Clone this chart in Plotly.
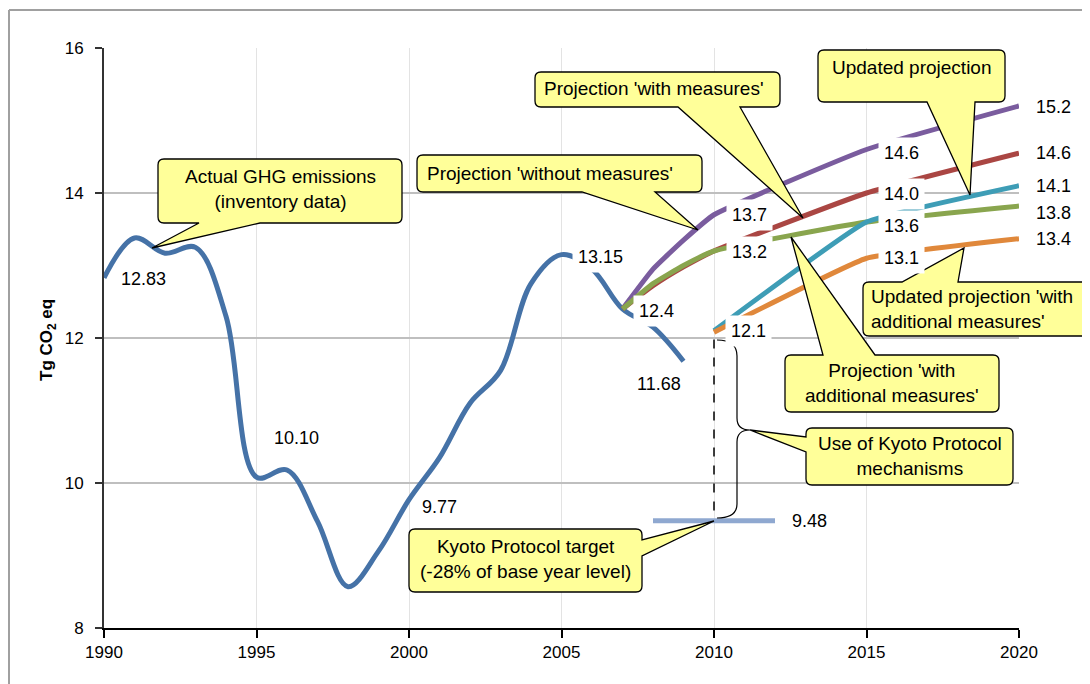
import plotly.graph_objects as go

# ---------------- data ----------------
actual_years = list(range(1990, 2010))
actual_ghg = [12.83, 13.38, 13.17, 13.25, 12.30, 10.08, 10.18, 9.47, 8.57, 9.06,
              9.77, 10.35, 11.10, 11.55, 12.75, 13.15, 12.95, 12.40, 12.15, 11.68]

proj_years = [2007, 2008, 2009, 2010, 2015, 2020]
proj_without_measures = [12.4, 12.95, 13.35, 13.7, 14.6, 15.2]
proj_with_measures = [12.4, 12.72, 12.98, 13.2, 14.0, 14.55]
proj_with_additional = [12.4, 12.75, 13.0, 13.2, 13.6, 13.82]

upd_years = [2010, 2015, 2020]
upd_projection = [12.1, 13.6, 14.1]
upd_with_additional = [12.08, 13.1, 13.37]

kyoto_years = [2008, 2012]
kyoto_target = [9.48, 9.48]

# data labels: (x, y, text)
labels_plain = [(1990, 12.83, "12.83"), (1995, 10.08, "10.10"), (2000, 9.77, "9.77"),
                (2009, 11.68, "11.68"), (2012, 9.48, "9.48")]
labels_boxed = [(2005, 13.15, "13.15"), (2007, 12.4, "12.4"),
                (2010, 13.7, "13.7"), (2010, 13.2, "13.2"), (2010, 12.1, "12.1"),
                (2015, 14.6, "14.6"), (2015, 14.0, "14.0"), (2015, 13.6, "13.6"), (2015, 13.1, "13.1"),
                (2020, 15.2, "15.2"), (2020, 14.55, "14.6"), (2020, 14.1, "14.1"),
                (2020, 13.82, "13.8"), (2020, 13.37, "13.4")]

FONT = "Liberation Sans, Arial, sans-serif"

fig = go.Figure()

def add_line(x, y, color, smooth, width=5):
    fig.add_trace(go.Scatter(x=x, y=y, mode="lines", showlegend=False, hoverinfo="skip",
                             line=dict(color=color, width=width, shape="spline", smoothing=smooth)))

add_line(actual_years, actual_ghg, "#4572A7", 1.0)
add_line(proj_years, proj_without_measures, "#7A5C9E", 0.4)
add_line(proj_years, proj_with_measures, "#AA4643", 0.4)
add_line(proj_years, proj_with_additional, "#89A54E", 0.4)
add_line(upd_years, upd_projection, "#3E9DB6", 0.3)
add_line(upd_years, upd_with_additional, "#E0883B", 0.3)
fig.add_trace(go.Scatter(x=kyoto_years, y=kyoto_target, mode="lines", showlegend=False,
                         hoverinfo="skip", line=dict(color="#8FA8D0", width=5)))

# ---------------- helpers (screen pixel -> paper) ----------------
L_, R_, T_, B_ = 104, 1019, 48, 628
def X(px): return (px - L_) / (R_ - L_)
def Y(py): return (B_ - py) / (B_ - T_)
def P(px, py): return f"{X(px):.5f},{Y(py):.5f}"

def callout(x0, y0, x1, y1, side, a, b, tip, r=6):
    tx, ty = tip
    c = [f"M{P(x0 + r, y0)}"]
    if side == "top":
        c += [f"L{P(a, y0)}", f"L{P(tx, ty)}", f"L{P(b, y0)}"]
    c += [f"L{P(x1 - r, y0)}", f"Q{P(x1, y0)} {P(x1, y0 + r)}"]
    if side == "right":
        c += [f"L{P(x1, a)}", f"L{P(tx, ty)}", f"L{P(x1, b)}"]
    c += [f"L{P(x1, y1 - r)}", f"Q{P(x1, y1)} {P(x1 - r, y1)}"]
    if side == "bottom":
        c += [f"L{P(b, y1)}", f"L{P(tx, ty)}", f"L{P(a, y1)}"]
    c += [f"L{P(x0 + r, y1)}", f"Q{P(x0, y1)} {P(x0, y1 - r)}"]
    if side == "left":
        c += [f"L{P(x0, b)}", f"L{P(tx, ty)}", f"L{P(x0, a)}"]
    c += [f"L{P(x0, y0 + r)}", f"Q{P(x0, y0)} {P(x0 + r, y0)}", "Z"]
    fig.add_shape(type="path", xref="paper", yref="paper", path=" ".join(c),
                  fillcolor="#FFFF99", line=dict(color="black", width=1.3), layer="above")

def ctext(px, py, text, anchor="center"):
    fig.add_annotation(xref="paper", yref="paper", x=X(px), y=Y(py), text=text,
                       showarrow=False, xanchor=anchor, yanchor="middle", align=anchor,
                       font=dict(family=FONT, size=19, color="black"))

callout(158, 159, 402, 223, "bottom", 199, 260, (152, 248))
ctext(280, 189, "Actual GHG emissions<br>(inventory data)")
callout(417, 155, 702, 192, "bottom", 582, 655, (698, 230))
ctext(425, 173, "Projection 'without measures'", "left")
callout(535, 72, 780, 107, "bottom", 678, 740, (803, 218))
ctext(542, 89, "Projection 'with measures'", "left")
callout(818, 50, 1005, 102, "bottom", 927, 975, (970, 195))
ctext(912, 68, "Updated projection")
callout(863, 282, 1088, 336, "top", 902, 958, (964, 248))
ctext(869, 309, "Updated projection 'with<br>additional measures'", "left")
callout(785, 355, 999, 412, "top", 823, 875, (791, 237))
ctext(892, 383, "Projection 'with<br>additional measures'")
callout(806, 428, 1013, 485, "left", 437, 452, (750, 430))
ctext(910, 456, "Use of Kyoto Protocol<br>mechanisms")
callout(409, 529, 642, 592, "right", 540, 556, (714, 521))
ctext(525, 559, "Kyoto Protocol target<br>(-28% of base year level)")

# brace
brace = ("M" + P(717, 340) + " Q" + P(737, 340) + " " + P(737, 356) + " L" + P(737, 418) +
         " Q" + P(737, 430) + " " + P(750, 430) + " Q" + P(737, 430) + " " + P(737, 442) +
         " L" + P(737, 504) + " Q" + P(737, 518) + " " + P(717, 518))
fig.add_shape(type="path", xref="paper", yref="paper", path=brace,
              line=dict(color="black", width=1.2), layer="above")
# dashed gap line
fig.add_shape(type="line", xref="x", yref="y", x0=2010, x1=2010, y0=11.98, y1=9.56,
              line=dict(color="black", width=1.5, dash="dash"), layer="above")

# outer border
fig.add_shape(type="line", xref="paper", yref="paper", x0=X(9), x1=X(1095), y0=Y(10), y1=Y(10),
              line=dict(color="#A0A0A0", width=2))
fig.add_shape(type="line", xref="paper", yref="paper", x0=X(9), x1=X(9), y0=Y(10), y1=Y(690),
              line=dict(color="#A0A0A0", width=2))

# data labels
offsets_plain = {"12.83": (39, -1), "10.10": (40, 39), "9.77": (30, -7),
                 "11.68": (-25, -23), "9.48": (34, 0)}
for x, y, t in labels_plain:
    dx, dy = offsets_plain[t]
    fig.add_annotation(x=x, y=y, text=t, showarrow=False, xanchor="center", yanchor="middle",
                       xshift=dx, yshift=dy, font=dict(family=FONT, size=18, color="black"))
shifts_boxed = {(2005, "13.15"): (39, -2), (2007, "12.4"): (34, -2),
                (2010, "13.7"): (35, 0), (2010, "13.2"): (35, -1), (2010, "12.1"): (34, 0),
                (2015, "14.6"): (35, -3), (2015, "14.0"): (35, -1), (2015, "13.6"): (35, -4),
                (2015, "13.1"): (35, 0),
                (2020, "15.2"): (34, -1), (2020, "14.6"): (34, 0), (2020, "14.1"): (34, 0),
                (2020, "13.8"): (34, -7), (2020, "13.4"): (34, 0)}
for x, y, t in labels_boxed:
    dx, dy = shifts_boxed[(x, t)]
    fig.add_annotation(x=x, y=y, text=t, showarrow=False, xanchor="center", yanchor="middle",
                       xshift=dx, yshift=dy, bgcolor="white", borderpad=5,
                       font=dict(family=FONT, size=18, color="black"))

# y-axis title
fig.add_annotation(xref="paper", yref="paper", x=X(48), y=Y(340), text="<b>Tg CO<sub>2</sub> eq</b>",
                   textangle=-90, showarrow=False, xanchor="center", yanchor="middle",
                   font=dict(family=FONT, size=17, color="black"))

# page body has an 8px default margin -> figure placed at (8, 8) on screen
fig.update_layout(
    width=1082, height=676, autosize=False,
    margin=dict(l=96, r=71, t=40, b=56),
    paper_bgcolor="white", plot_bgcolor="white",
    font=dict(family=FONT, color="black"),
    xaxis=dict(range=[1990, 2020], dtick=5, tick0=1990, showgrid=True, gridcolor="#E3E3E3",
               gridwidth=1, showline=True, linecolor="black", linewidth=2, ticks="outside",
               ticklen=8, tickwidth=1.5, tickcolor="black", zeroline=False,
               tickfont=dict(family=FONT, size=17, color="black")),
    yaxis=dict(range=[8, 16], dtick=2, tick0=8, showgrid=True, gridcolor="#BFBFBF",
               gridwidth=1.5, showline=True, linecolor="#333333", linewidth=2, ticks="outside",
               ticklen=7, tickwidth=1.5, tickcolor="#333333", zeroline=False,
               ticklabelstandoff=8,
               tickfont=dict(family=FONT, size=17, color="black")),
)

fig.write_html("out.html")
